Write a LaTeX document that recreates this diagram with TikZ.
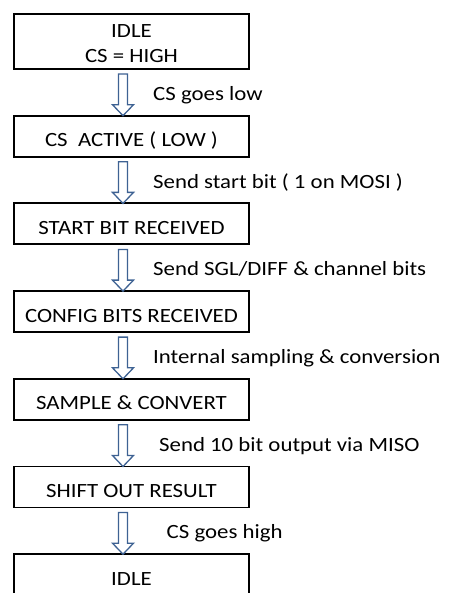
\documentclass[tikz,border=0pt]{standalone}
\usepackage{fontspec}
\setmainfont{Carlito}[FakeStretch=1.13]
\usetikzlibrary{positioning, calc}
\definecolor{arrowblue}{HTML}{3E6293}
\tikzset{
  state/.style = {rectangle, draw=black, line width=1.8pt, minimum width=235pt,
                  minimum height=41pt, outer sep=0pt,
                  text height=21pt, text depth=0pt},
  hollow/.style = {draw=arrowblue, line width=1.3pt, fill=white, line join=miter},
  cue/.style = {anchor=base west, inner sep=0pt},
}
% hollow block arrow from one state to the next, with its label
\newcommand{\flowstep}[4]{%
  \coordinate (#1-top) at ($(#1.south)+(-8.5,-5)$);
  \coordinate (#1-tip) at ($(#2.north)+(-8.5,0)$);
  \draw[hollow] let \p1=(#1-top), \p2=(#1-tip) in
    (\x1-4.5,\y1) -- (\x1+4.5,\y1) -- (\x1+4.5,\y2+11) -- (\x1+10.5,\y2+11)
    -- (\x2,\y2) -- (\x1-10.5,\y2+11) -- (\x1-4.5,\y2+11) -- cycle;
  \node[cue] (#1-cue) at ($(#1-top)!0.5!(#1-tip)+(#4,-5.5)$) {#3};
}

\begin{document}
\begin{tikzpicture}[x=1pt, y=1pt, node distance=46.7pt,
                    font=\fontsize{20.2}{25}\selectfont]
  \useasboundingbox (0,0) rectangle (448,-593);
  \clip (0,0) rectangle (448,-593);

  \node[state, minimum height=55pt, inner ysep=0pt, text height=43pt,
        text depth=0pt] (idle) at (131.5,-41.5)
    {\begin{tabular}[b]{@{}c@{}}IDLE\\CS = HIGH\end{tabular}};
  \node[state, below=of idle] (active) {CS\ \ ACTIVE ( LOW )};
  \node[state, below=of active] (start) {START BIT RECEIVED};
  \node[state, below=of start] (config) {CONFIG BITS RECEIVED};
  \node[state, below=of config] (sample) {SAMPLE \& CONVERT};
  \node[state, below=of sample] (shift) {SHIFT OUT RESULT};
  \node[state, below=of shift] (back) {IDLE};

  \flowstep{idle}{active}{CS goes low}{30}
  \flowstep{active}{start}{Send start bit ( 1 on MOSI )}{30}
  \flowstep{start}{config}{Send SGL/DIFF \& channel bits}{30}
  \flowstep{config}{sample}{Internal sampling \& conversion}{30}
  \flowstep{sample}{shift}{Send 10 bit output via MISO}{36}
  \flowstep{shift}{back}{CS goes high}{43.5}
\end{tikzpicture}
\end{document}
